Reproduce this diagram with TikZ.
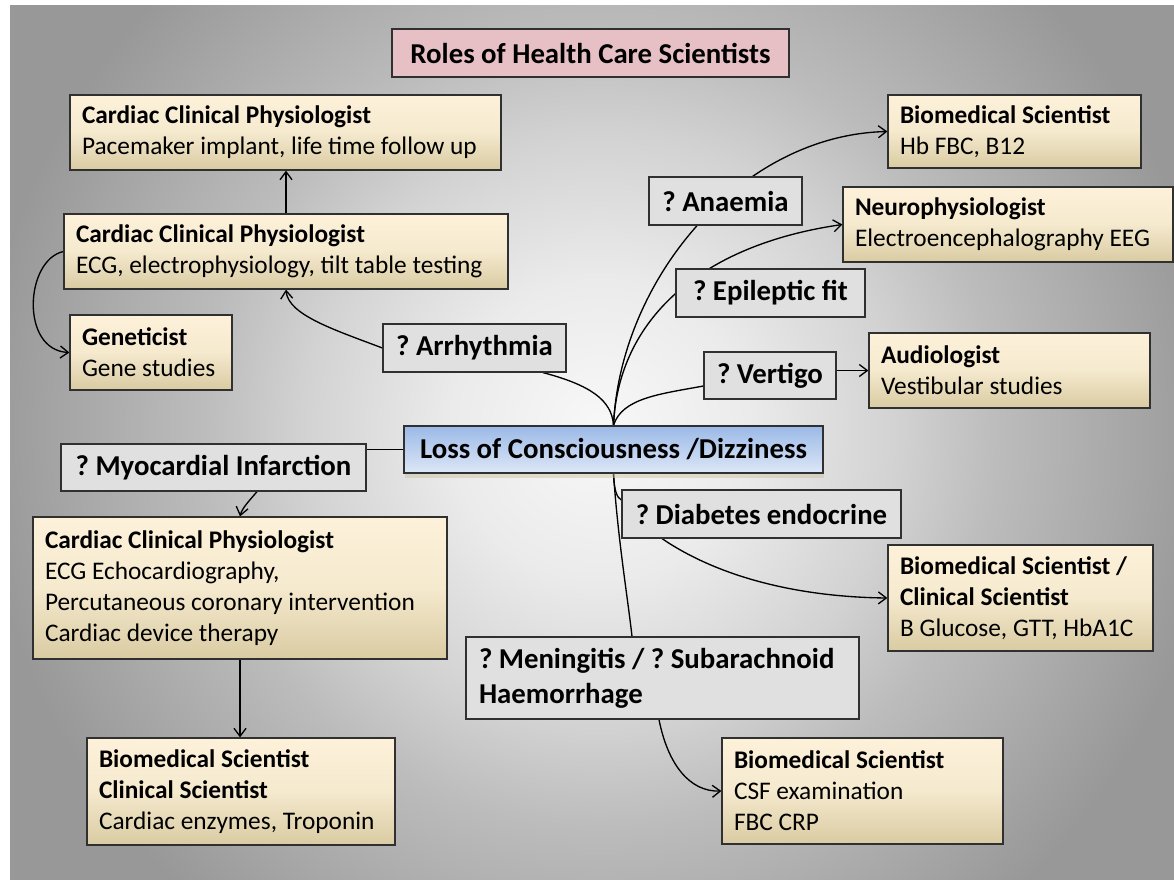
\documentclass[tikz,border=0pt]{standalone}
\usepackage{fontspec}
\setmainfont{Carlito}
\usetikzlibrary{arrows.meta,calc,shadows}
\definecolor{bgin}{HTML}{F8F8F8}
\definecolor{bgc1}{HTML}{EBEBEB}
\definecolor{bgc2}{HTML}{D2D2D2}
\definecolor{bgc3}{HTML}{BCBCBC}
\definecolor{bgout}{HTML}{989898}
\definecolor{boxline}{HTML}{303030}
\definecolor{creamtop}{HTML}{FDF1DA}
\definecolor{creammid}{HTML}{F5E9CE}
\definecolor{creambot}{HTML}{D9CBA2}
\definecolor{marble}{HTML}{E0E0E0}
\definecolor{pinkbox}{HTML}{E7C0C5}
\definecolor{bluetop}{HTML}{9BB9E6}
\definecolor{bluebot}{HTML}{DDE7F7}
\definecolor{shadowc}{HTML}{C8C0A0}
\pgfdeclareradialshading{bgshade}{\pgfpoint{0bp}{0bp}}{color(0bp)=(bgin); color(6bp)=(bgc1); color(12bp)=(bgc2); color(16bp)=(bgc3); color(25bp)=(bgout); color(50bp)=(bgout)}
\pgfdeclarelayer{bg}
\pgfdeclarelayer{lines}
\pgfsetlayers{bg,lines,main}
\tikzset{
  plaintext/.style={execute at begin node={\frenchspacing\spaceskip=0pt\xspaceskip=0pt\hyphenpenalty=10000\exhyphenpenalty=10000}},
  cbox/.style={plaintext, draw=boxline, line width=0.9pt, top color=creamtop, bottom color=creambot, middle color=creammid,
    inner xsep=9pt, inner ysep=0pt, align=left, font=\fontsize{19}{23.25}\selectfont},
  lbox/.style={plaintext, draw=boxline, line width=0.9pt, fill=marble, inner sep=0pt, align=center,
    font=\fontsize{21.6}{26.5}\selectfont\bfseries},
  link/.style={draw=black, line width=1pt},
  linkarr/.style={link, -{Straight Barb[length=6pt,width=9pt]}}
}
\begin{document}
\begin{tikzpicture}[x=0.75pt,y=-0.75pt]
\useasboundingbox (0,0) rectangle (1174,879);
\begin{pgfonlayer}{bg}
  \fill[bgout] (10,5) rectangle (1190,895);
  \begin{scope}
    \clip (10,5) rectangle (1190,895);
    \shade[shading=bgshade] (600,430) circle [radius=465pt];
  \end{scope}
\end{pgfonlayer}

% title
\node[lbox, fill=pinkbox, minimum width=297.75pt, minimum height=36pt] (title) at (590.5,53) {Roles of Health Care Scientists};

% role boxes
\node[cbox, minimum width=323.25pt, minimum height=56.25pt, text width=305.25pt] (cardA) at (285.5,132.5)
  {\textbf{Cardiac Clinical Physiologist}\\Pacemaker implant, life time follow up};
\node[cbox, minimum width=333pt, minimum height=56.25pt, text width=315pt] (cardB) at (286,251.5)
  {\textbf{Cardiac Clinical Physiologist}\\ECG, electrophysiology, tilt table testing};
\node[cbox, minimum width=121.5pt, minimum height=56.25pt, text width=103.5pt] (gen) at (151,352.5)
  {\textbf{Geneticist}\\Gene studies};
\node[cbox, minimum width=310.5pt, minimum height=106.5pt, text width=292.5pt] (cardC) at (240,588)
  {\textbf{Cardiac Clinical Physiologist}\\ECG Echocardiography,\\Percutaneous coronary intervention\\Cardiac device therapy};
\node[cbox, minimum width=231pt, minimum height=80.25pt, text width=213pt] (bioC) at (241,791.5)
  {\textbf{Biomedical Scientist}\\\textbf{Clinical Scientist}\\Cardiac enzymes, Troponin};
\node[cbox, minimum width=189.75pt, minimum height=54.75pt, text width=171.75pt] (bioA) at (1014.5,131.5)
  {\textbf{Biomedical Scientist}\\Hb FBC, B12};
\node[cbox, minimum width=247.5pt, minimum height=56.25pt, text width=229.5pt] (neuro) at (1008,224.5)
  {\textbf{Neurophysiologist}\\Electroencephalography EEG};
\node[cbox, minimum width=210.75pt, minimum height=56.25pt, text width=192.75pt] (aud) at (1009.5,370.5)
  {\textbf{Audiologist}\\Vestibular studies};
\node[cbox, minimum width=198.75pt, minimum height=79.5pt, text width=180.75pt] (bioB) at (1020.5,598)
  {\textbf{Biomedical Scientist /}\\\textbf{Clinical Scientist}\\B Glucose, GTT, HbA1C};
\node[cbox, minimum width=210.75pt, minimum height=79.5pt, text width=192.75pt] (bioD) at (862.5,791)
  {\textbf{Biomedical Scientist}\\CSF examination\\FBC CRP};

% question boxes
\node[lbox, minimum width=137.25pt, minimum height=36pt] (arrh) at (474.5,348) {? Arrhythmia};
\node[lbox, minimum width=228.75pt, minimum height=35.25pt] (mi) at (213.5,467.5) {? Myocardial Infarction};
\node[lbox, minimum width=114.75pt, minimum height=36pt] (anae) at (725.5,201) {? Anaemia};
\node[lbox, minimum width=141.75pt, minimum height=36pt] (epi) at (770.5,293) {? Epileptic fit};
\node[lbox, minimum width=99pt, minimum height=35.25pt] (vert) at (770,375.5) {? Vertigo};
\node[lbox, minimum width=209.25pt, minimum height=36pt] (diab) at (761.5,514) {? Diabetes endocrine};
\node[lbox, minimum width=294.75pt, minimum height=61.5pt, inner xsep=9.75pt, text width=275.25pt, align=left] (men) at (662.5,678)
  {? Meningitis / ? Subarachnoid\\Haemorrhage};

% centre
\node[lbox, top color=bluetop, bottom color=bluebot, minimum width=314.25pt, minimum height=35.25pt,
  drop shadow={shadow xshift=1pt, shadow yshift=-4pt, fill=shadowc, opacity=0.45}] (center) at (613.5,449.5)
  {Loss of Consciousness /Dizziness};

% connectors
\begin{pgfonlayer}{lines}
  \draw[linkarr] (cardB.north) -- (cardB.north |- cardA.south);
  \draw[linkarr] (cardB.west) .. controls (25,260) and (20,350) .. (gen.west);
  \draw[linkarr] (arrh.west) .. controls (335,330) and (288,315) .. (cardB.south);
  \draw[link] ($(arrh.south)+(68.5,0)$) .. controls (590,385) and (612,400) .. (center.north);
  \draw[linkarr] (center.north) .. controls (620,280) and (740,135) .. (bioA.west);
  \draw[linkarr] (center.north) .. controls (618,320) and (700,245) .. (neuro.west);
  \draw[link] (center.north) .. controls (622,398) and (660,394) .. ($(vert.west)+(0,10.5)$);
  \draw[linkarr] (vert.east |- aud.west) -- (aud.west);
  \draw[link] (center.west) -- (center.west -| mi.east);
  \draw[linkarr] ($(mi.south)+(43.5,0)$) .. controls (250,500) and (242,508) .. (cardC.north);
  \draw[linkarr] (cardC.south) -- (cardC.south |- bioC.north);
  \draw[link] (center.south) .. controls (614,490) and (617,498) .. ($(diab.west)+(0,-14)$);
  \draw[linkarr] ($(diab.south)+(-99.5,0)$) .. controls (720,578) and (800,597) .. (bioB.west);
  \draw[link] (center.south) .. controls (618,540) and (628,600) .. ($(men.north)+(-30.5,0)$);
  \draw[linkarr] ($(men.south)+(-3.5,0)$) .. controls (668,765) and (690,792) .. (bioD.west);
\end{pgfonlayer}
\end{tikzpicture}
\end{document}
